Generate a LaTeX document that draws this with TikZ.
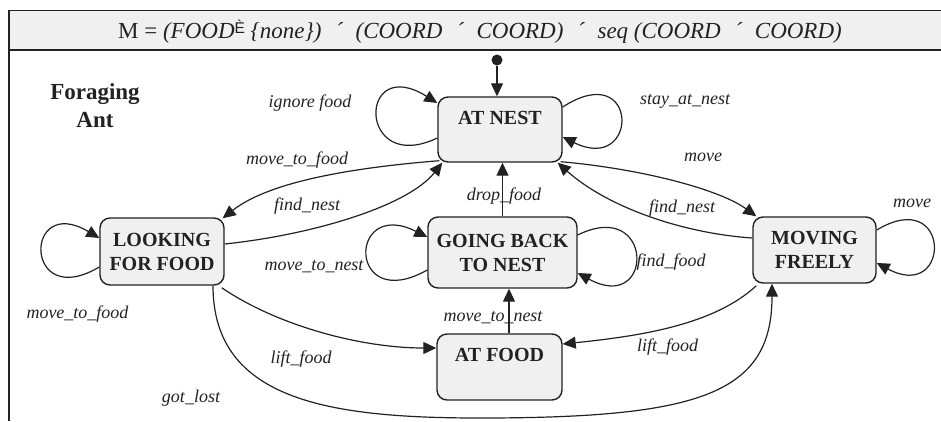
\documentclass[tikz,border=0pt]{standalone}
\usepackage{fontspec}
\setmainfont{Liberation Serif}
\newfontfamily\hdrsans{Liberation Sans}
\usetikzlibrary{arrows.meta}
\definecolor{linec}{HTML}{222222}
\definecolor{boxfill}{HTML}{F0F0F0}
\newcommand{\acu}{\hspace{0.6em}´\hspace{0.55em}}
\tikzset{
  state/.style={draw=linec, line width=1.4pt, fill=boxfill, rounded corners=10pt,
    font=\fontsize{20}{24}\selectfont\bfseries, align=center, inner sep=0pt, text=linec},
  lbl/.style={font=\fontsize{18}{20}\selectfont\itshape, text=linec, inner sep=0pt},
  edge/.style={draw=linec, line width=1.2pt, -{Triangle[length=13pt,width=12pt]}},
  frame/.style={draw=linec, line width=1.4pt},
}
\begin{document}
\begin{tikzpicture}[x=1pt,y=-1pt]
\useasboundingbox (0,0) rectangle (941,421);
% header
\fill[boxfill] (9,10.5) rectangle (945,50);
\draw[frame] (945,10.5) -- (9,10.5) -- (9,421);
\draw[frame] (9,50) -- (945,50);
\node[anchor=base, inner sep=0pt, text=linec, font=\fontsize{23}{26}\selectfont] (hdr) at (480,38)
  {M = \textit{(FOOD}\raisebox{5pt}{\hdrsans\fontsize{15.5}{15}\selectfont È}\textit{ \{none\})\acu(COORD\acu COORD)\acu seq (COORD\acu COORD)}};
\node[font=\fontsize{23}{28}\selectfont\bfseries, align=center, text=linec, inner sep=0pt] (title) at (95,106) {Foraging\\Ant};

% states
\node[state, minimum width=124pt, minimum height=65pt] (nest) at (500,129.5) {AT NEST\\\mbox{}};
\node[state, minimum width=124pt, minimum height=67pt] (look) at (162,251.5) {LOOKING\\FOR FOOD};
\node[state, minimum width=149pt, minimum height=71pt] (back) at (502.5,252.5) {GOING BACK\\TO NEST};
\node[state, minimum width=123pt, minimum height=66pt] (moving) at (814.5,250) {MOVING\\FREELY};
\node[state, minimum width=125pt, minimum height=66pt] (food) at (499.5,367) {AT FOOD\\\mbox{}};
\node[circle, fill=linec, inner sep=0pt, minimum size=11pt] (init) at (497,60) {};

% connectors
\draw[edge] (init) -- (init |- nest.north);
\draw[edge] ([yshift=-8.5pt]nest.west) .. controls +(-80,38) and +(-80,-50) .. ([yshift=26.5pt]nest.west);
\draw[edge] ([yshift=22.5pt]nest.east) .. controls +(77,-50) and +(77,38) .. ([yshift=-7.5pt]nest.east);
\draw[edge] ([yshift=-15.5pt]look.west) .. controls +(-76,45) and +(-76,-45) .. ([yshift=13.5pt]look.west);
\draw[edge] ([yshift=-17.5pt]back.west) .. controls +(-80,45) and +(-80,-40) .. ([yshift=15.5pt]back.west);
\draw[edge] ([yshift=17.5pt]back.east) .. controls +(77,-38) and +(77,42) .. ([yshift=-20.5pt]back.east);
\draw[edge] ([yshift=20pt]moving.east) .. controls +(75,-45) and +(75,40) .. ([yshift=-13pt]moving.east);

\draw[edge] ([xshift=2pt,yshift=2pt]nest.south west) .. controls +(-100,8) and +(43,-34) .. ([xshift=-2pt,yshift=-1pt]look.north east);
\draw[edge] ([yshift=7.5pt]look.east) .. controls +(86,-9) and +(-35,44) .. ([xshift=5pt]nest.south west);
\draw[edge] ([xshift=-2pt,yshift=1pt]nest.south east) .. controls +(80,7) and +(-37,-27) .. ([xshift=4pt]moving.north west);
\draw[edge] ([yshift=12pt]moving.west) .. controls +(-73,-5) and +(48,43) .. ([xshift=-5pt]nest.south east);
\draw[edge] (back.north) -- (back.north |- nest.south);
\draw[edge] ([xshift=9.5pt]food.north) -- ([xshift=9.5pt]food.north |- back.south);
\draw[edge] ([xshift=4pt,yshift=-2pt]moving.south west) .. controls +(-42,39) and +(78,-8) .. ([yshift=23pt]food.east);
\draw[edge] ([xshift=-3pt,yshift=-2pt]look.south east) .. controls +(54,37) and +(-77,0) .. ([yshift=19pt]food.west);
\draw[edge] ([xshift=51pt]look.south) .. controls +(0,115) and +(-150,0) .. (480,418) .. controls +(220,0) and +(0,110) .. ([xshift=-42.5pt]moving.south);

% labels
\node[lbl] (l1) at (310,103) {ignore food};
\node[lbl] (l2) at (685,101) {stay\_at\_nest};
\node[lbl] (l3) at (297,160) {move\_to\_food};
\node[lbl] (l4) at (307,206) {find\_nest};
\node[lbl] (l5) at (703,157) {move};
\node[lbl] (l6) at (504,196) {drop\_food};
\node[lbl] (l7) at (682,208) {find\_nest};
\node[lbl] (l8) at (912,203) {move};
\node[lbl] (l9) at (314,267) {move\_to\_nest};
\node[lbl] (l10) at (671,262) {find\_food};
\node[lbl] (l11) at (77.5,314) {move\_to\_food};
\node[lbl] (l12) at (493,318) {move\_to\_nest};
\node[lbl] (l13) at (301,359) {lift\_food};
\node[lbl] (l14) at (667.5,347) {lift\_food};
\node[lbl] (l15) at (191,398) {got\_lost};
\end{tikzpicture}
\end{document}
